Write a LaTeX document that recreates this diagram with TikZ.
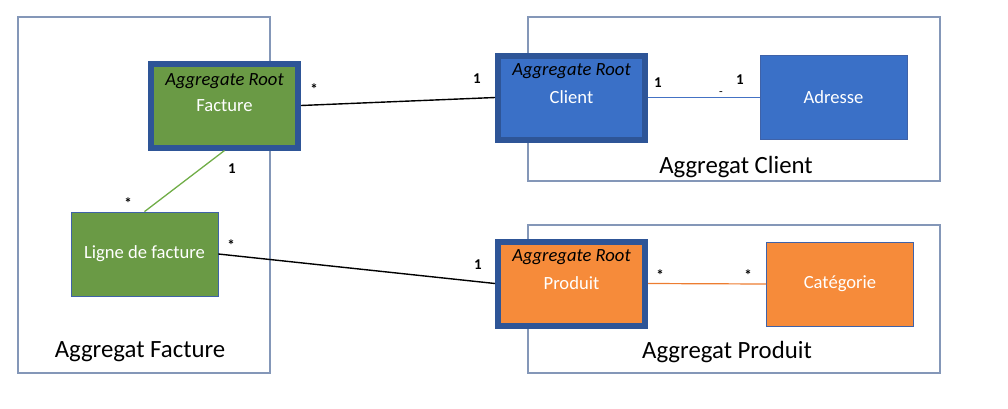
\documentclass[tikz,border=0pt]{standalone}
\usepackage{fontspec}
\setmainfont{Carlito}
\definecolor{framecol}{HTML}{8497B8}
\definecolor{rootborder}{HTML}{2E5597}
\definecolor{greenfill}{HTML}{6A9A45}
\definecolor{bluefill}{HTML}{3A70C7}
\definecolor{orangefill}{HTML}{F68B3A}
\definecolor{greenline}{HTML}{70AD47}
\definecolor{blueline}{HTML}{4472C4}
\definecolor{orangeline}{HTML}{ED7D31}
\definecolor{thinborder}{HTML}{3F62A8}
\begin{document}
\begin{tikzpicture}[x=1pt,y=-1pt,
  aggframe/.style={draw=framecol, line width=1.1pt, inner sep=0pt},
  aggtitle/.style={font=\fontsize{24.8}{28}\selectfont, text=black, inner sep=0pt},
  entity/.style={minimum width=147pt, minimum height=84pt, inner sep=0pt,
    text=white, font=\fontsize{18.6}{22}\selectfont},
  plainbox/.style={entity, draw=thinborder, line width=0.8pt},
  rootbox/.style={entity, draw=rootborder, line width=6pt},
  roottag/.style={font=\fontsize{18.6}{22}\selectfont\itshape, text=black, inner sep=0pt},
  mult/.style={font=\fontsize{15}{17}\selectfont\bfseries, text=black, inner sep=0pt},
  assoc/.style={line width=1.4pt}
]
\useasboundingbox (0,0) rectangle (1008,408);

% aggregate boundaries
\node[aggframe, minimum width=252pt, minimum height=356pt] (aggF) at (144,195) {};
\node[aggframe, minimum width=412pt, minimum height=164pt] (aggC) at (734,99) {};
\node[aggframe, minimum width=412pt, minimum height=148pt] (aggP) at (734,299) {};
\node[aggtitle] (aggFtitle) at (140,352) {Aggregat Facture};
\node[aggtitle] (aggCtitle) at (736,167) {Aggregat Client};
\node[aggtitle] (aggPtitle) at (727,352) {Aggregat Produit};

% entities
\node[rootbox, fill=greenfill] (facture) at (224.5,105.5) {Facture};
\node[roottag] (factureTag) at ([yshift=24pt]facture.center) {Aggregate Root};
\node[plainbox, fill=greenfill] (ligne) at (144.5,254) {Ligne de facture};

\node[rootbox, fill=bluefill] (client) at (571.5,97.5) {Client};
\node[roottag] (clientTag) at ([yshift=26pt]client.center) {Aggregate Root};
\node[plainbox, fill=bluefill] (adresse) at (833.5,97.5) {Adresse};

\node[rootbox, fill=orangefill] (produit) at (571.5,283.5) {Produit};
\node[roottag] (produitTag) at ([yshift=26pt]produit.center) {Aggregate Root};
\node[plainbox, fill=orangefill] (categorie) at (840,284) {Catégorie};

% associations
\draw[assoc, black] (facture.east) -- (client.west);
\draw[line width=1.2pt, blueline] (client.east) -- (adresse.west);
\draw[line width=1.3pt, greenline] (facture.south) -- (ligne.north);
\draw[assoc, black] (ligne.east) -- (produit.west);
\draw[line width=1.2pt, orangeline] (produit.east) -- (categorie.west);

% multiplicities
\node[mult] (mFC1) at (314,89) {*};
\node[mult] (mFC2) at (477,79) {1};
\node[mult] (mCA1) at (658,83) {1};
\node[mult] (mCA2) at (740,80) {1};
\node[font=\fontsize{12}{14}\selectfont, inner sep=0pt] (mCAdash) at (721,94) {-};
\node[mult] (mFL1) at (232,169) {1};
\node[mult] (mFL2) at (128,203) {*};
\node[mult] (mLP1) at (231,245) {*};
\node[mult] (mLP2) at (478,265) {1};
\node[mult] (mPC1) at (660,275) {*};
\node[mult] (mPC2) at (748,275) {*};
\end{tikzpicture}
\end{document}
